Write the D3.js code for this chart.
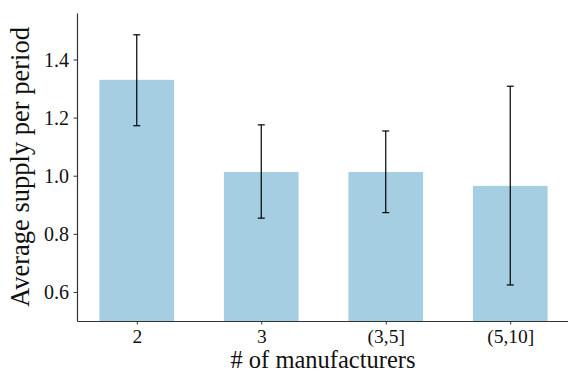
<!DOCTYPE html>
<html><head><meta charset="utf-8">
<script src="https://cdn.jsdelivr.net/npm/d3@7"></script>
<style>body{margin:0;background:#fff}</style>
</head><body><svg id="c" width="568" height="373"></svg>
<script>
const categories = ["2", "3", "(3,5]", "(5,10]"];
const means = [1.330, 1.013, 1.013, 0.965];
const errLow = [1.172, 0.854, 0.873, 0.624];
const errHigh = [1.485, 1.175, 1.154, 1.308];
const yTicks = [0.6, 0.8, 1.0, 1.2, 1.4];

const svg = d3.select("#c");
const font = "'Liberation Serif', 'Times New Roman', serif";
const x = d3.scaleLinear().domain([-0.48, 3.48]).range([77, 570]);
const y = d3.scaleLinear().domain([0.5, 1.56]).range([321, 13]);
const bw = x(0.3) - x(-0.3);

svg.selectAll("rect.bar").data(means).join("rect")
  .attr("class","bar")
  .attr("x",(d,i)=>x(i)-bw/2).attr("width",bw)
  .attr("y",d=>y(d)).attr("height",d=>y(0.5)-y(d))
  .attr("fill","#a6cee3");

const eb = svg.append("g").attr("stroke","#000").attr("stroke-width",1.2);
categories.forEach((c,i)=>{
  const cx = x(i);
  eb.append("line").attr("x1",cx).attr("x2",cx).attr("y1",y(errLow[i])).attr("y2",y(errHigh[i]));
  eb.append("line").attr("x1",cx-3.5).attr("x2",cx+3.5).attr("y1",y(errLow[i])).attr("y2",y(errLow[i]));
  eb.append("line").attr("x1",cx-3.5).attr("x2",cx+3.5).attr("y1",y(errHigh[i])).attr("y2",y(errHigh[i]));
});

const gy = svg.append("g").attr("transform","translate(77,0)")
  .call(d3.axisLeft(y).tickValues(yTicks).tickFormat(d3.format(".1f")).tickSize(3.5).tickSizeOuter(0));
const gx = svg.append("g").attr("transform","translate(0,321)")
  .call(d3.axisBottom(x).tickValues([0,1,2,3]).tickFormat(i=>categories[i]).tickSize(3.5).tickSizeOuter(0));
[gx,gy].forEach(g=>{
  g.attr("font-family",font).attr("font-size",20);
  g.select(".domain").attr("stroke","#333").attr("stroke-width",1.2);
  g.selectAll(".tick line").attr("stroke","#333").attr("stroke-width",1);
  g.selectAll("text").style("font-family",font).style("font-size","20px").attr("fill","#111");
});
gy.selectAll("text").attr("x",-8).attr("dy","0.33em");
gx.selectAll("text").style("font-size","19.5px").attr("y",21.5).attr("dy",0);

svg.append("text").attr("x",323).attr("y",368.2).attr("text-anchor","middle")
  .style("font-family",font).style("font-size","24.5px").attr("fill","#111").text("# of manufacturers");
svg.append("text").attr("transform","translate(29,167) rotate(-90)").attr("text-anchor","middle")
  .style("font-family",font).style("font-size","26.5px").attr("fill","#111").text("Average supply per period");
</script></body></html>
